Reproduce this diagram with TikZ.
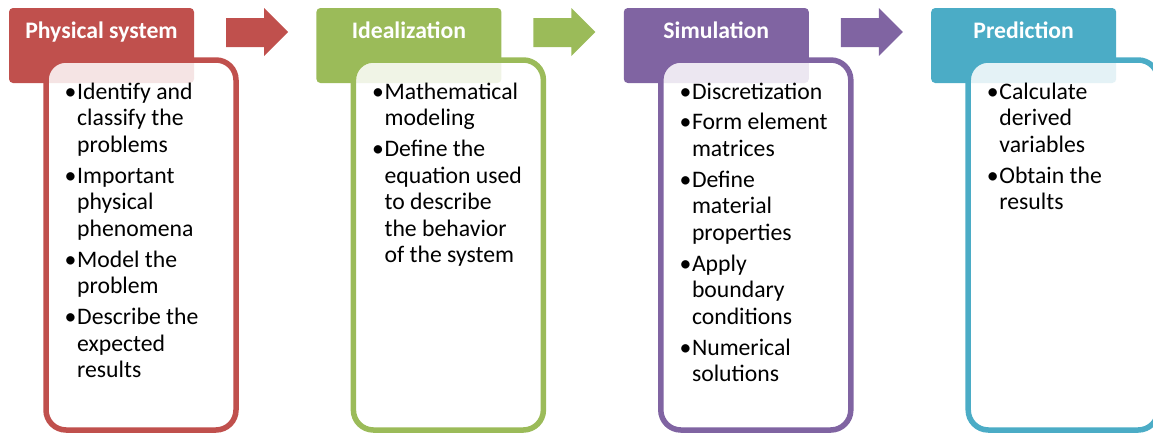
\documentclass[tikz,border=0pt]{standalone}
\usepackage{fontspec}
\setmainfont{Carlito}
\usetikzlibrary{calc,positioning}
\definecolor{stageRed}{HTML}{C0504D}
\definecolor{stageGreen}{HTML}{9BBB59}
\definecolor{stagePurple}{HTML}{8064A2}
\definecolor{stageTeal}{HTML}{4BACC6}
\newcommand{\bul}{\makebox[12.5pt][l]{\textbullet}}

\begin{document}
\begin{tikzpicture}[x=1pt,y=1pt,
  stagehead/.style={rectangle,rounded corners=4pt,inner sep=0pt,outer sep=0pt,
    minimum width=185pt,minimum height=75pt,anchor=north west},
  stagetitle/.style={anchor=base,text=white,font=\fontsize{23.7pt}{26.6pt}\selectfont\bfseries,inner sep=0pt},
  stagebody/.style={rectangle,rounded corners=20pt,line width=5.5pt,fill=white,fill opacity=0.85,
    inner sep=0pt,outer sep=0pt,minimum width=190pt,minimum height=370pt,anchor=north west},
  stagelist/.style={anchor=base west,inner sep=0pt,font=\fontsize{23.7pt}{26.6pt}\selectfont}]
\useasboundingbox (0,0) rectangle (1153,-434);

% headers
\node[stagehead,fill=stageRed]    (hA) at (9,-8) {};
\node[stagehead,fill=stageGreen]  (hB) at (316.4,-8) {};
\node[stagehead,fill=stagePurple] (hC) at (623.8,-8) {};
\node[stagehead,fill=stageTeal]   (hD) at (931.2,-8) {};

\node[stagetitle] (tA) at ($(hA.north)+(0,-30.5)$) {Physical system};
\node[stagetitle] (tB) at ($(hB.north)+(0,-30.5)$) {Idealization};
\node[stagetitle] (tC) at ($(hC.north)+(0,-30.5)$) {Simulation};
\node[stagetitle] (tD) at ($(hD.north)+(0,-30.5)$) {Prediction};

% bodies sit over the headers
\node[stagebody,draw=stageRed]    (bA) at ($(hA.north west)+(37,-52)$) {};
\node[stagebody,draw=stageGreen]  (bB) at ($(hB.north west)+(37,-52)$) {};
\node[stagebody,draw=stagePurple] (bC) at ($(hC.north west)+(37,-52)$) {};
\node[stagebody,draw=stageTeal]   (bD) at ($(hD.north west)+(37,-52)$) {};

% block arrows between the stages
\foreach \from/\col in {hA/stageRed,hB/stageGreen,hC/stagePurple}
  \fill[\col] ($(\from.north east)+(32,-10)$) -- ++(38,0) -- ++(0,10) -- ++(24,-24)
    -- ++(-24,-24) -- ++(0,9) -- ++(-38,0) -- cycle;

% bullet lists
\node[stagelist] (lA) at ($(hA.north west)+(55.5,-91)$) {%
  \begin{tabular}[t]{@{}l@{}l@{}}
  \bul & Identify and\\ & classify the\\ & problems\\[4.2pt]
  \bul & Important\\ & physical\\ & phenomena\\[4.2pt]
  \bul & Model the\\ & problem\\[4.2pt]
  \bul & Describe the\\ & expected\\ & results
  \end{tabular}};
\node[stagelist] (lB) at ($(hB.north west)+(55.5,-91)$) {%
  \begin{tabular}[t]{@{}l@{}l@{}}
  \bul & Mathematical\\ & modeling\\[4.2pt]
  \bul & Define the\\ & equation used\\ & to describe\\ & the behavior\\ & of the system
  \end{tabular}};
\node[stagelist] (lC) at ($(hC.north west)+(55.5,-91)$) {%
  \begin{tabular}[t]{@{}l@{}l@{}}
  \bul & Discretization\\[4.2pt]
  \bul & Form element\\ & matrices\\[4.2pt]
  \bul & Define\\ & material\\ & properties\\[4.2pt]
  \bul & Apply\\ & boundary\\ & conditions\\[4.2pt]
  \bul & Numerical\\ & solutions
  \end{tabular}};
\node[stagelist] (lD) at ($(hD.north west)+(55.5,-91)$) {%
  \begin{tabular}[t]{@{}l@{}l@{}}
  \bul & Calculate\\ & derived\\ & variables\\[4.2pt]
  \bul & Obtain the\\ & results
  \end{tabular}};
\end{tikzpicture}
\end{document}
